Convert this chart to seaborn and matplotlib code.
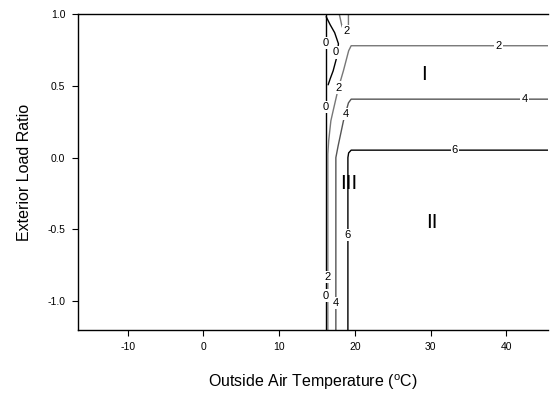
import pandas as pd
import matplotlib
matplotlib.use("Agg")
import matplotlib.pyplot as plt
import seaborn as sns

# contour lines: outside air temp (C) vs exterior load ratio
c0_main_t = [16.17, 16.17]
c0_main_r = [1.0, -1.2]
c0_loop_t = [16.21, 16.74, 17.33, 17.83, 17.66, 17.13, 16.74, 16.47]
c0_loop_r = [0.981, 0.925, 0.870, 0.793, 0.709, 0.604, 0.549, 0.507]

c2_main_t = [45.5, 19.51, 19.18, 18.49, 17.83, 17.13, 16.83, 16.54, 16.43, 16.43]
c2_main_r = [0.779, 0.779, 0.744, 0.605, 0.486, 0.326, 0.256, 0.116, 0.026, -1.2]
c2_top_t = [17.94, 18.28, 18.72, 19.15, 19.15]
c2_top_r = [1.0, 0.918, 0.862, 0.918, 1.0]

c4_t = [45.5, 19.51, 19.15, 18.49, 17.79, 17.49, 17.49]
c4_r = [0.407, 0.407, 0.381, 0.256, 0.082, 0.0, -1.2]

c6_t = [45.5, 19.51, 19.18, 19.08, 19.08]
c6_r = [0.052, 0.052, 0.033, 0.0, -1.2]

# contour labels: (text, temp, ratio)
label_text = ["0", "0", "0", "0", "2", "2", "2", "2", "4", "4", "4", "6", "6"]
label_t = [16.17, 16.17, 16.17, 17.49, 38.97, 17.83, 16.43, 18.85, 42.4, 18.81, 17.49, 33.2, 19.08]
label_r = [0.80, 0.35, -0.96, 0.732, 0.779, 0.488, -0.83, 0.884, 0.407, 0.303, -1.01, 0.052, -0.54]

# region names
region_text = ["I", "II", "III"]
region_t = [29.1, 30.2, 19.25]
region_r = [0.58, -0.45, -0.18]

sns.set_style("ticks")
plt.rcParams['font.family'] = ['Liberation Sans', 'DejaVu Sans']
plt.rcParams['mathtext.fontset'] = 'custom'
plt.rcParams['mathtext.rm'] = 'Liberation Sans'
plt.rcParams['axes.unicode_minus'] = False
plt.rcParams['text.color'] = 'black'
plt.rcParams['axes.labelcolor'] = 'black'
plt.rcParams['xtick.color'] = 'black'
plt.rcParams['ytick.color'] = 'black'

fig = plt.figure(figsize=(5.5, 3.95), dpi=100)
ax = fig.add_axes([0.1413, 0.1646, 0.855, 0.80])

lines = [
    (c0_main_t, c0_main_r, "black"),
    (c0_loop_t, c0_loop_r, "black"),
    (c2_main_t, c2_main_r, "#777777"),
    (c2_top_t, c2_top_r, "#777777"),
    (c4_t, c4_r, "#555555"),
    (c6_t, c6_r, "black"),
]
for t, r, col in lines:
    df = pd.DataFrame({"t": t, "r": r})
    sns.lineplot(data=df, x="t", y="r", sort=False, estimator=None,
                 color=col, lw=1.0, ax=ax)

for s, t, r in zip(label_text, label_t, label_r):
    ax.text(t, r, s, fontsize=8, ha="center", va="center", zorder=5,
            bbox=dict(boxstyle="square,pad=0.1", fc="white", ec="none"))

for s, t, r in zip(region_text, region_t, region_r):
    ax.text(t, r, s, fontsize=15, ha="center", va="center")

ax.set_xlim(-16.6, 45.5)
ax.set_ylim(-1.2, 1.0)
ax.set_xticks([-10, 0, 10, 20, 30, 40])
ax.set_yticks([-1.0, -0.5, 0.0, 0.5, 1.0])
ax.set_yticklabels(["-1.0", "-0.5", "0.0", "0.5", "1.0"])
ax.tick_params(direction="out", length=4, width=0.8, labelsize=7.5, pad=5)
ax.spines["right"].set_visible(False)
for sp in ["top", "left", "bottom"]:
    ax.spines[sp].set_linewidth(1.0)
    ax.spines[sp].set_color("black")

ax.set_xlabel(r"Outside Air Temperature ($\mathregular{^o}$C)", fontsize=11.5, labelpad=14)
ax.set_ylabel("Exterior Load Ratio", fontsize=11.5, labelpad=11)

fig.savefig("out.png", dpi=100)
